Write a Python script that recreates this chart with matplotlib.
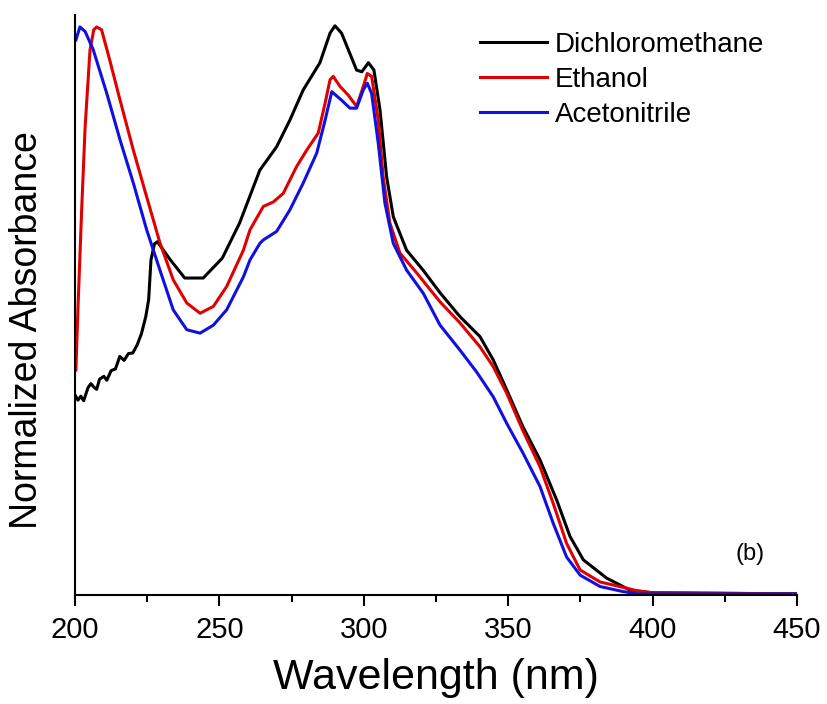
import matplotlib.pyplot as plt
from matplotlib.ticker import MultipleLocator

plt.rcParams['font.family'] = ['Liberation Sans', 'DejaVu Sans']

# Dichloromethane
wl_dcm = [200, 201, 202, 203, 204.5, 205.5, 206.5, 207.5, 208.5, 210, 211, 212.5, 214,
          215.5, 217, 218.5, 220, 221.5, 223, 224.5, 225.5, 226.3, 227.5, 228.5, 233,
          238, 244.4, 251, 257, 264, 269.8, 274.4, 279, 284.8, 288.3, 290, 292.3, 297.5,
          299.3, 301.6, 303.5, 305.6, 307.9, 310.2, 314.8, 320.5, 326.4, 333.3, 340.2,
          344.8, 349.5, 355.1, 361, 366.8, 371.4, 376, 384, 392, 400, 450]
abs_dcm = [0.352, 0.343, 0.350, 0.342, 0.365, 0.372, 0.366, 0.362, 0.380, 0.385, 0.378,
           0.395, 0.398, 0.420, 0.413, 0.425, 0.426, 0.440, 0.460, 0.490, 0.520, 0.590,
           0.618, 0.622, 0.590, 0.558, 0.558, 0.593, 0.655, 0.748, 0.789, 0.836, 0.889,
           0.937, 0.989, 1.002, 0.989, 0.924, 0.921, 0.937, 0.924, 0.854, 0.736, 0.666,
           0.607, 0.572, 0.532, 0.490, 0.455, 0.414, 0.361, 0.296, 0.238, 0.167, 0.103,
           0.062, 0.030, 0.009, 0.004, 0.002]

# Ethanol
wl_eth = [200.3, 201, 202.3, 203.5, 205.2, 206.5, 207.5, 209.2, 212, 215.6, 220.2, 224.8,
          229.4, 234, 238.7, 243.3, 247.9, 252.5, 258.3, 260.6, 265.2, 268.7, 272.1,
          276.7, 280.2, 284.2, 286.6, 288.3, 289.4, 291.8, 294.6, 297.5, 299.8, 301.2,
          302.7, 305, 306.7, 309, 312.5, 318.3, 326.4, 333.3, 340.2, 344.8, 349.5, 355.2,
          361, 365.6, 370.2, 374.9, 381.8, 391, 395, 400, 450]
abs_eth = [0.396, 0.502, 0.678, 0.824, 0.960, 0.995, 1.000, 0.995, 0.942, 0.871, 0.783,
           0.701, 0.620, 0.555, 0.514, 0.496, 0.508, 0.543, 0.607, 0.643, 0.684, 0.692,
           0.707, 0.754, 0.783, 0.813, 0.866, 0.907, 0.913, 0.895, 0.880, 0.860, 0.895,
           0.918, 0.913, 0.836, 0.736, 0.655, 0.602, 0.567, 0.516, 0.479, 0.437, 0.402,
           0.355, 0.288, 0.226, 0.161, 0.091, 0.044, 0.023, 0.012, 0.007, 0.004, 0.002]

# Acetonitrile
wl_acn = [200.3, 201.7, 203.5, 206.3, 211, 215.6, 220.2, 224.8, 229.4, 234, 238.7, 243.3,
          247.9, 252.5, 258.3, 260.6, 264, 265.2, 269.8, 274.4, 279, 283.7, 286.6, 288.9,
          292.3, 295.2, 297.5, 299.8, 301.2, 302.7, 305, 307.3, 310.2, 314.8, 320.6,
          326.4, 333.3, 339, 344.8, 349.5, 355.2, 361, 365.6, 370.2, 374.9, 381.8, 389.8,
          395, 450]
abs_acn = [0.977, 1.000, 0.992, 0.960, 0.883, 0.801, 0.725, 0.643, 0.572, 0.502, 0.467,
           0.461, 0.475, 0.502, 0.560, 0.590, 0.619, 0.625, 0.640, 0.678, 0.725, 0.778,
           0.836, 0.886, 0.871, 0.857, 0.857, 0.889, 0.901, 0.883, 0.795, 0.690, 0.619,
           0.572, 0.531, 0.475, 0.431, 0.393, 0.349, 0.302, 0.249, 0.191, 0.126, 0.067,
           0.035, 0.015, 0.006, 0.002, 0.002]

fig = plt.figure(figsize=(8.28, 7.04), dpi=100)
ax = fig.add_subplot(111)
fig.subplots_adjust(left=0.0906, right=0.9626, bottom=0.1548, top=0.9787)

ax.plot(wl_dcm, abs_dcm, color='black', lw=2.2, label='Dichloromethane')
ax.plot(wl_eth, abs_eth, color='#e00000', lw=2.2, label='Ethanol')
ax.plot(wl_acn, abs_acn, color='#1010e0', lw=2.2, label='Acetonitrile')

ax.set_xlim(200, 450)
ax.set_ylim(0, 1.021)
ax.spines['top'].set_visible(False)
ax.spines['right'].set_visible(False)
for s in ['left', 'bottom']:
    ax.spines[s].set_linewidth(1.5)
ax.set_yticks([])
ax.xaxis.set_major_locator(MultipleLocator(50))
ax.xaxis.set_minor_locator(MultipleLocator(25))
ax.tick_params(axis='x', which='major', direction='out', length=8, width=1.5,
               labelsize=21, pad=7)
ax.tick_params(axis='x', which='minor', direction='out', length=5, width=1.5)

ax.set_xlabel('Wavelength (nm)', fontsize=31, labelpad=10)
ax.set_ylabel('Normalized Absorbance', fontsize=27)
ax.yaxis.set_label_coords(-0.042, 0.457)

ax.legend(loc='upper left', bbox_to_anchor=(0.561, 0.971), frameon=False,
          fontsize=20, handlelength=2.4, handletextpad=0.3, labelspacing=0.32,
          borderpad=0, borderaxespad=0)
ax.text(0.915, 0.06, '(b)', transform=ax.transAxes, fontsize=17)

fig.savefig('out.png', dpi=100)
